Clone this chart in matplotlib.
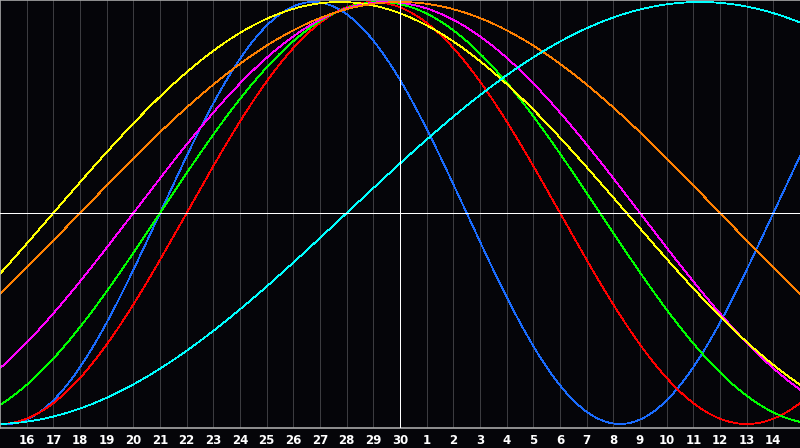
import numpy as np
import matplotlib
matplotlib.use("Agg")
import matplotlib.pyplot as plt

# ---- data ----
# cycle length (days) of each curve
cycle_days = [23, 28, 33, 38, 43, 48, 53]
# day (relative to the centre day "30") where each curve crosses zero going up
rise_day = [-9, -8, -9, -10, -13, -12, -2]
curve_colors = ["#1a6cff", "#ff0000", "#00ff00", "#ff00ff", "#ffff00", "#ff8000", "#00ffff"]

# day labels shown along the bottom, for offsets -14 .. 14
day_offsets = list(range(-14, 15))
day_labels = ["16", "17", "18", "19", "20", "21", "22", "23", "24", "25", "26", "27", "28", "29", "30",
              "1", "2", "3", "4", "5", "6", "7", "8", "9", "10", "11", "12", "13", "14"]

W, H = 800, 448
fig = plt.figure(figsize=(W / 100, H / 100), dpi=100, facecolor="#050509")
ax = fig.add_axes([0, (H - 428) / H, 1, 428 / H])
ax.set_facecolor("#050509")

top = 213 / 211
bot = -215 / 211
ax.set_xlim(-15, 15)
ax.set_ylim(bot, top)

LW = 0.72   # one pixel
CLW = 0.55  # curve width

# vertical day grid
for d in day_offsets:
    if d != 0:
        ax.axvline(d, color="#3c3c40", lw=LW, zorder=1, antialiased=False)

t = np.linspace(-15, 15, 1601)
for P, r, c in zip(cycle_days, rise_day, curve_colors):
    y = np.sin(2 * np.pi * (t - r) / P)
    ax.plot(t, y, color=c, lw=CLW, zorder=2, antialiased=False)

# white centre cross
ax.axvline(0, color="white", lw=LW, zorder=3, antialiased=False)
ax.axhline(0, color="white", lw=LW, zorder=3, antialiased=False)

ax.spines["right"].set_visible(False)
for side in ["top", "left", "bottom"]:
    ax.spines[side].set_color("#a8a8a8")
    ax.spines[side].set_linewidth(1.2)

ax.set_yticks([])
ax.set_xticks(day_offsets)
ax.set_xticklabels(day_labels, color="white", fontsize=8.5, fontweight="bold",
                   family="DejaVu Sans")
ax.tick_params(axis="x", length=0, pad=4)

fig.savefig("out.png", dpi=100, facecolor=fig.get_facecolor())
